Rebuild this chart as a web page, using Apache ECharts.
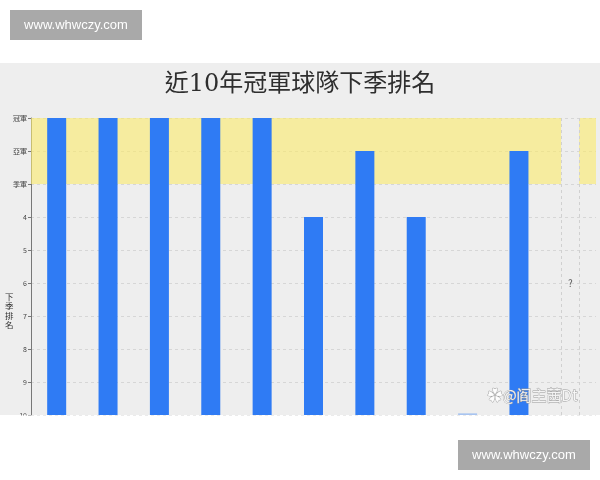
<!DOCTYPE html>
<html><head><meta charset="utf-8">
<script src="https://cdn.jsdelivr.net/npm/echarts@6/dist/echarts.min.js"></script>
<style>html,body{margin:0;padding:0;background:#fff}#c{width:600px;height:480px}</style>
</head><body><div id="c"></div>
<script>
// --- data ---
const categories = ['1', '2', '3', '4', '5', '6', '7', '8', '9', '10', '11'];
// next-season rank of each champion (1 = 冠軍); last one unknown
const nextSeasonRank = [1, 1, 1, 1, 1, 4, 2, 4, 9.95, 2, null];
const unknownRank = [null, null, null, null, null, null, null, null, null, null, 6];
const rankTickLabels = ['冠軍', '亞軍', '季軍', '4', '5', '6', '7', '8', '9', '10'];
const RANK_BOTTOM = 10;

const toHeight = r => (r == null ? null : RANK_BOTTOM - r);

const chart = echarts.init(document.getElementById('c'));
const FONT = '"Noto Sans CJK TC", "Noto Sans CJK SC", sans-serif';
chart.setOption({
  backgroundColor: '#ffffff',
  animation: false,
  textStyle: { fontFamily: FONT },
  title: {
    text: '近10年冠軍球隊下季排名',
    left: 'center',
    top: 68,
    textStyle: { fontSize: 24, fontWeight: 'normal', color: '#2e2e2e', fontFamily: '"DejaVu Serif", "Noto Sans CJK TC", serif' }
  },
  grid: { left: 31, right: 4, top: 118, bottom: 65, containLabel: false },
  xAxis: [
    { type: 'category', data: categories, show: false },
    { type: 'value', min: 0, max: 11, show: false }
  ],
  yAxis: {
    type: 'value', min: 0, max: 9, interval: 1,
    axisLine: { show: true, lineStyle: { color: '#777', width: 1 } },
    axisTick: { show: true, length: 3, lineStyle: { color: '#777' } },
    axisLabel: {
      fontSize: 7, color: '#444', margin: 4,
      formatter: v => rankTickLabels[RANK_BOTTOM - v - 1]
    },
    splitLine: { show: true, lineStyle: { type: [3, 3], color: '#d6d6d6' } }
  },
  series: [
    {
      type: 'line', xAxisIndex: 1, data: [], silent: true,
      markArea: {
        silent: true,
        itemStyle: { color: 'rgba(250,234,110,0.62)' },
        data: [
          [{ xAxis: 0, yAxis: toHeight(1) }, { xAxis: 10.32, yAxis: toHeight(3) }],
          [{ xAxis: 10.67, yAxis: toHeight(1) }, { xAxis: 11, yAxis: toHeight(3) }]
        ]
      },
      markLine: {
        silent: true, symbol: 'none', label: { show: false },
        lineStyle: { type: [3, 3], color: '#d0d0d0', width: 1 },
        data: [{ xAxis: 10.32 }, { xAxis: 10.67 }]
      }
    },
    {
      type: 'bar', z: 3,
      data: nextSeasonRank.map(toHeight),
      barWidth: 19,
      itemStyle: {
        color: p => (p.value < 0.2 ? '#a8c4f0' : '#2f7bf4')
      }
    },
    {
      type: 'scatter', z: 4,
      data: unknownRank.map(toHeight),
      symbolSize: 0,
      label: { show: true, position: 'inside', formatter: '?', fontSize: 10, color: '#333' }
    }
  ],
  graphic: [
    { type: 'rect', z: -100, silent: true, shape: { x: 0, y: 63, width: 600, height: 352 }, style: { fill: '#eeeeee' } },
    { type: 'text', z: 10, left: 5, top: 292,
      style: { text: '下\n季\n排\n名', fontSize: 8.5, lineHeight: 9.5, fill: '#333', fontFamily: FONT } },
    { type: 'text', z: 10, left: 487, top: 387,
      style: { text: '✿@阎主茜Dt', fontSize: 15, fill: 'rgba(255,255,255,0.85)', stroke: '#9a9a9a', lineWidth: 0.8, fontFamily: FONT } },
    { type: 'rect', z: 100, silent: true, shape: { x: 0, y: 415.5, width: 600, height: 65 }, style: { fill: '#ffffff' } },
    { type: 'rect', z: 101, shape: { x: 10, y: 10, width: 132, height: 30 }, style: { fill: '#a9a9a9' } },
    { type: 'text', z: 102, x: 76, y: 25,
      style: { text: 'www.whwczy.com', fontSize: 13, fill: '#fff', align: 'center', verticalAlign: 'middle', fontFamily: 'Liberation Sans, Arial, sans-serif' } },
    { type: 'rect', z: 101, shape: { x: 458, y: 440, width: 132, height: 30 }, style: { fill: '#a9a9a9' } },
    { type: 'text', z: 102, x: 524, y: 455,
      style: { text: 'www.whwczy.com', fontSize: 13, fill: '#fff', align: 'center', verticalAlign: 'middle', fontFamily: 'Liberation Sans, Arial, sans-serif' } }
  ]
});
</script>
</body></html>
